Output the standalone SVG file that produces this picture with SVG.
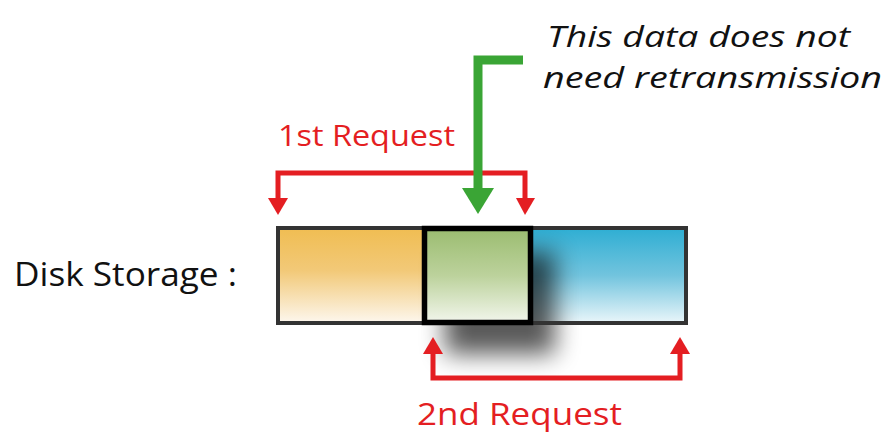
<svg xmlns="http://www.w3.org/2000/svg" width="890" height="435" viewBox="0 0 890 435">
<style>
.lbl{font-family:"Open Sans","Liberation Sans",sans-serif;}
.red{fill:#e41e22;}
.wire{fill:none;stroke:#e41e22;stroke-width:5;}
</style>
<defs>
<linearGradient id="gOr" x1="0" y1="0" x2="0" y2="1"><stop offset="0" stop-color="#f0bd52"/><stop offset="0.45" stop-color="#f2c978"/><stop offset="1" stop-color="#fdf7ee"/></linearGradient>
<linearGradient id="gGr" x1="0" y1="0" x2="0" y2="1"><stop offset="0" stop-color="#9bbc70"/><stop offset="0.5" stop-color="#bcd29c"/><stop offset="1" stop-color="#f2f6ec"/></linearGradient>
<linearGradient id="gBl" x1="0" y1="0" x2="0" y2="1"><stop offset="0" stop-color="#2eaed3"/><stop offset="0.5" stop-color="#72c4de"/><stop offset="1" stop-color="#eaf6fa"/></linearGradient>
<filter id="blur" x="-50%" y="-50%" width="200%" height="200%"><feGaussianBlur stdDeviation="12"/></filter>
</defs>
<g id="disk-label"><text class="lbl" x="14" y="286" font-size="32" textLength="223" lengthAdjust="spacingAndGlyphs" fill="#111">Disk Storage :</text></g>
<g id="disk">
<rect x="278" y="228" width="146" height="95" fill="url(#gOr)"/>
<rect x="530" y="228" width="156" height="95" fill="url(#gBl)"/>
<rect x="445" y="252" width="110" height="102" fill="#000" opacity="0.65" filter="url(#blur)"/>
<rect x="278" y="228" width="408" height="95" fill="none" stroke="#333" stroke-width="4"/>
</g>
<g id="block2">
<rect x="424.5" y="228.5" width="106" height="94" fill="url(#gGr)" stroke="#000" stroke-width="5.5"/>
</g>
<g id="connectors">
<path class="wire" d="M278,200 V173 H525 V200"/>
<path class="red" d="M268,198 L288,198 L278,215 z"/>
<path class="red" d="M516,198 L535,198 L525,215 z"/>
<path class="wire" d="M433,354 V378 H680 V354"/>
<path class="red" d="M423,354 L443,354 L433,337 z"/>
<path class="red" d="M670,354 L690,354 L680,337 z"/>
<path d="M523,60 H478 V190" fill="none" stroke="#3aa535" stroke-width="9"/>
<path d="M462,188 L494,188 L478,214 z" fill="#3aa535"/>
</g>
<g id="labels">
<text class="lbl red" x="278" y="146" font-size="29.5" textLength="177" lengthAdjust="spacingAndGlyphs">1st Request</text>
<text class="lbl red" x="417" y="425" font-size="31" textLength="205" lengthAdjust="spacingAndGlyphs">2nd Request</text>
<text class="lbl" x="547" y="47" font-size="30" font-style="italic" textLength="303" lengthAdjust="spacingAndGlyphs" fill="#111">This data does not</text>
<text class="lbl" x="543" y="88" font-size="30" font-style="italic" textLength="339" lengthAdjust="spacingAndGlyphs" fill="#111">need retransmission</text>
</g>
</svg>
